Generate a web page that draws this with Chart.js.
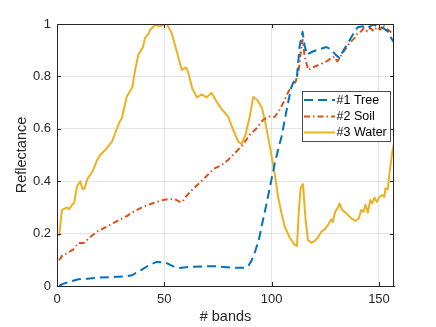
<!DOCTYPE html>
<html>
<head>
<meta charset="utf-8">
<script src="https://cdn.jsdelivr.net/npm/chart.js@4.4.0/dist/chart.umd.min.js"></script>
<style>
  html, body { margin: 0; padding: 0; background: #fff; }
  #wrap { width: 436px; height: 327px; }
</style>
</head>
<body>
<div id="wrap"><canvas id="spectra" width="436" height="327"></canvas></div>
<script>
// band positions and reflectance values
const treeBands = [1,3,7,10,14,20,26,32,35,39, 43.4,46.5,50.3,54.2,57,62,68,75,81,87.5,
  89,90.5,92,94,95.5,97,98.5,100,101.5,103, 104.6,106.1,107.6,109.2,110.7,111.8,113,114.4,115.3,116.4,
  119.2,122.3,125.5,127.5,129.8,131.6,133.5,135.5,137.8,140.1, 142.5,144.8,147.1,149.4,151.8,154.1,155.7,157];
const treeValues = [0,0.009,0.019,0.026,0.028,0.032,0.034,0.037,0.041,0.06, 0.082,0.092,0.09,0.075,0.069,0.073,0.075,0.075,0.07,0.07,
  0.075,0.095,0.124,0.175,0.235,0.29,0.35,0.41,0.47,0.52, 0.57,0.634,0.698,0.76,0.787,0.80,0.914,0.97,0.921,0.883,
  0.895,0.904,0.912,0.904,0.883,0.87,0.90,0.927,0.959,0.988, 0.991,0.985,0.998,0.991,0.985,0.972,0.946,0.93];

const soilBands = [1,2.5,4.5,7.5,10,12.5,15.5,18.5,23,28, 32.5,35.5,40,45,49.5,52.5,55,57.3,58.4,60,
  62,66,69.7,73,76.7,79.7,82.5,86.5,89.8,93, 96,99,101.4,103.5,105.5,108,109.7,111.2,112.7,113.5,
  114.4,115.4,117,119,122,125.5,127.8,129.3,130.6,132, 134,136.3,138.6,140.1,141.7,143,144.5,146,147.6,149,
  150.6,151.8,153,154.6,155.7,157];
const soilValues = [0.098,0.117,0.124,0.139,0.164,0.164,0.187,0.207,0.226,0.248, 0.267,0.283,0.302,0.317,0.328,0.332,0.331,0.321,0.321,0.34,
  0.36,0.39,0.42,0.447,0.462,0.481,0.505,0.538,0.577,0.602, 0.634,0.647,0.645,0.67,0.70,0.745,0.765,0.78,0.83,0.889,
  0.94,0.876,0.825,0.834,0.844,0.857,0.87,0.876,0.857,0.876, 0.90,0.927,0.946,0.966,0.972,0.985,0.972,0.985,0.972,0.988,
  0.978,0.997,0.985,0.976,0.968,0.966];

const waterBands = [1,2.3,3.5,4.6,5.7,7,8,9.3,10.8,11.9, 12.8,14.2,15.5,16.7,18.6,20.1,22.9,25.6,27.1,29,
  30.2,32.5,35.1,36.4,37.9,40,41,42.6,43.4,45.7, 47.7,49.5,51.1,53.4,55.8,58.1,60.2,61.2,63,65.2,
  67.4,69.7,72,74.3,76.7,79.7,82.1,84.4,86,87.8, 89.8,91.4,93.4,95.5,96.8,98.3,99.9,101.4,103,104.6,
  106.1,108.4,110.7,111.8,112.7,113.5,114.6,115.7,116.9,118.5, 120,121.6,123.1,124.7,126.2,127.8,128.5,129.6,130.9,131.6,
  132.9,134.8,137.1,139.1,140.6,141.7,142.8,143.7,144.8,145.9, 146.8,147.9,149,150.2,151.5,152.5,153,154.1,154.9,156.1,
  157];
const waterValues = [0.19,0.29,0.295,0.30,0.293,0.31,0.317,0.38,0.40,0.37, 0.372,0.41,0.424,0.44,0.48,0.50,0.523,0.551,0.583,0.624,
  0.64,0.723,0.759,0.825,0.883,0.91,0.946,0.962,0.978,0.996, 0.991,0.996,1.0,0.966,0.895,0.825,0.834,0.813,0.755,0.72,
  0.731,0.72,0.737,0.704,0.675,0.647,0.596,0.551,0.542,0.577, 0.647,0.721,0.71,0.679,0.634,0.57,0.50,0.43,0.34,0.277,
  0.226,0.185,0.158,0.153,0.29,0.373,0.389,0.264,0.175,0.165, 0.172,0.185,0.207,0.216,0.232,0.255,0.245,0.283,0.30,0.315,
  0.29,0.277,0.258,0.249,0.258,0.29,0.283,0.309,0.28,0.328, 0.315,0.337,0.321,0.34,0.347,0.34,0.373,0.369,0.43,0.506,
  0.545];

const seriesNames = ['#1 Tree', '#2 Soil', '#3 Water'];
const xTicks = [0, 50, 100, 150];
const yTicks = [0, 0.2, 0.4, 0.6, 0.8, 1];

const FONT = "'Liberation Sans', Helvetica, Arial, sans-serif";
const AXIS = '#262626';

function toPoints(xs, ys) {
  return xs.map((x, i) => ({ x: x, y: ys[i] }));
}

// top/right box, inward ticks (MATLAB style) and the legend box
const matlabAxes = {
  id: 'matlabAxes',
  afterDraw(chart) {
    const ctx = chart.ctx;
    const a = chart.chartArea;
    const xs = chart.scales.x, ys = chart.scales.y;
    const tl = 4;
    ctx.save();
    ctx.strokeStyle = AXIS;
    ctx.lineWidth = 1;
    ctx.beginPath();
    ctx.moveTo(a.left, a.top + 0.5); ctx.lineTo(a.right, a.top + 0.5);
    ctx.moveTo(a.right - 0.5, a.top); ctx.lineTo(a.right - 0.5, a.bottom);
    xTicks.forEach(v => {
      const px = Math.round(xs.getPixelForValue(v)) + 0.5;
      ctx.moveTo(px, a.bottom); ctx.lineTo(px, a.bottom - tl);
      ctx.moveTo(px, a.top); ctx.lineTo(px, a.top + tl);
    });
    yTicks.forEach(v => {
      const py = Math.round(ys.getPixelForValue(v)) + 0.5;
      ctx.moveTo(a.left, py); ctx.lineTo(a.left + tl, py);
      ctx.moveTo(a.right, py); ctx.lineTo(a.right - tl, py);
    });
    ctx.stroke();

    // legend
    const bx = 302, by = 91, bw = 89, bh = 51;
    ctx.fillStyle = '#fff';
    ctx.fillRect(bx, by, bw, bh);
    ctx.strokeStyle = '#4d4d4d';
    ctx.strokeRect(bx + 0.5, by + 0.5, bw - 1, bh - 1);
    const rows = [100, 116.5, 132.5];
    chart.data.datasets.forEach((ds, i) => {
      ctx.beginPath();
      ctx.strokeStyle = ds.borderColor;
      ctx.lineWidth = ds.borderWidth;
      ctx.setLineDash(ds.borderDash || []);
      ctx.moveTo(304, rows[i]); ctx.lineTo(335, rows[i]);
      ctx.stroke();
      ctx.setLineDash([]);
      ctx.fillStyle = '#000';
      ctx.font = '12.5px ' + FONT;
      ctx.textBaseline = 'middle';
      ctx.textAlign = 'left';
      ctx.fillText(ds.label, 336.5, rows[i] + 0.5);
    });
    ctx.restore();
  }
};

const chart = new Chart(document.getElementById('spectra'), {
  type: 'line',
  data: {
    datasets: [{
      label: seriesNames[0],
      data: toPoints(treeBands, treeValues),
      borderColor: '#0072BD',
      borderWidth: 2,
      borderDash: [9, 5]
    }, {
      label: seriesNames[1],
      data: toPoints(soilBands, soilValues),
      borderColor: '#D95319',
      borderWidth: 2,
      borderDash: [6, 3, 1.5, 3]
    }, {
      label: seriesNames[2],
      data: toPoints(waterBands, waterValues),
      borderColor: '#EDB120',
      borderWidth: 2
    }]
  },
  options: {
    responsive: false,
    animation: false,
    layout: { padding: { top: 24, right: 42, left: 0, bottom: 0 } },
    elements: { point: { radius: 0 }, line: { tension: 0, borderJoinStyle: 'round' } },
    plugins: { legend: { display: false }, tooltip: { enabled: false } },
    scales: {
      x: {
        type: 'linear',
        min: 0,
        max: 157,
        afterFit: s => { s.height = 41; },
        afterBuildTicks: s => { s.ticks = xTicks.map(v => ({ value: v })); },
        grid: { color: 'rgba(38,38,38,0.12)', drawTicks: false },
        border: { color: AXIS, width: 1 },
        ticks: { color: AXIS, font: { family: FONT, size: 13 }, padding: 6, maxRotation: 0 },
        title: { display: true, text: '# bands', color: AXIS, font: { family: FONT, size: 14.5 }, padding: { top: 0, bottom: 1 } }
      },
      y: {
        min: 0,
        max: 1,
        afterFit: s => { s.width = 57; },
        afterBuildTicks: s => { s.ticks = yTicks.map(v => ({ value: v })); },
        grid: { color: 'rgba(38,38,38,0.12)', drawTicks: false },
        border: { color: AXIS, width: 1 },
        ticks: { color: AXIS, font: { family: FONT, size: 13 }, padding: 6, callback: v => String(v) },
        title: { display: true, text: 'Reflectance', color: AXIS, font: { family: FONT, size: 14.5 }, padding: { top: 13, bottom: 0 } }
      }
    }
  },
  plugins: [matlabAxes]
});
</script>
</body>
</html>
